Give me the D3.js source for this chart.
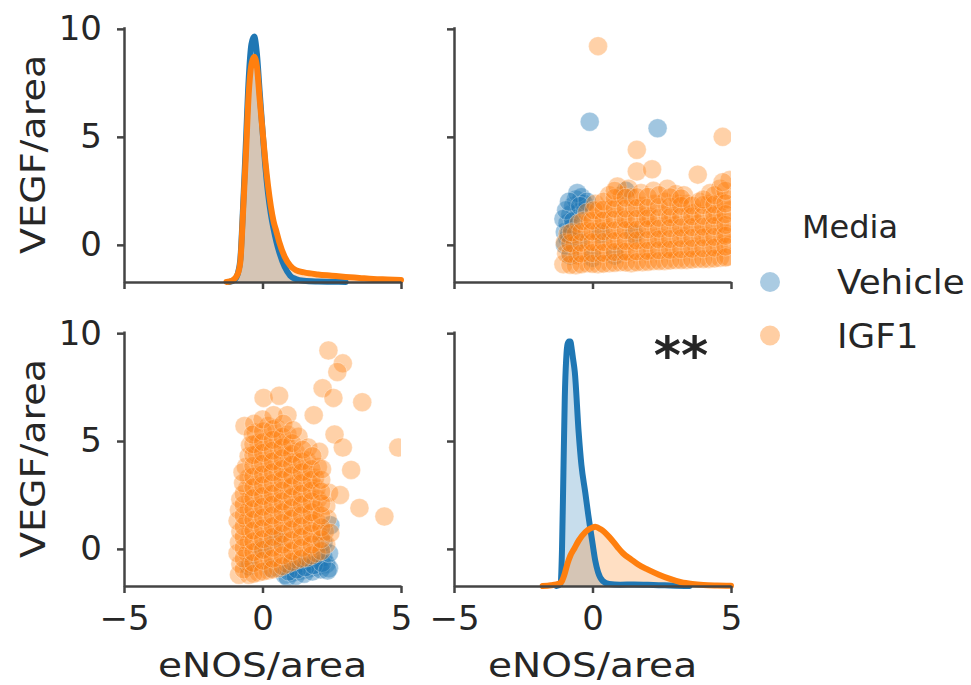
<!DOCTYPE html>
<html>
<head>
<meta charset="utf-8">
<script src="https://cdn.jsdelivr.net/npm/d3@7"></script>
<style>
body { margin: 0; background: #fff; }
text { font-family: "DejaVu Sans", sans-serif; fill: #262626; }
</style>
</head>
<body>
<svg id="chart" width="971" height="685"></svg>
<script>
/* global d3 */

var groups = ['Vehicle', 'IGF1'],
colArray = ['#1f77b4', '#ff7f0e'],
xTicks = [-5, 0, 5],
yTicks = [0, 5, 10],
xLabel = 'eNOS/area',
yLabel = 'VEGF/area',
legendTitle = 'Media',
markText = '**';

// diagonal kde curves, [x, relative density]
var kdeTopVehicle = [[-1.2, 0], [-1.0, 0.01], [-0.9, 0.03], [-0.8, 0.09], [-0.7, 0.3], [-0.6, 0.55], [-0.5, 0.8], [-0.4, 0.94], [-0.3, 0.97], [-0.2, 0.9], [-0.1, 0.75], [0, 0.6], [0.1, 0.46], [0.2, 0.35], [0.3, 0.27], [0.4, 0.21], [0.5, 0.16], [0.6, 0.12], [0.8, 0.06], [1.0, 0.025], [1.2, 0.012], [1.5, 0.005], [2, 0.002], [2.5, 0.001], [3, 0]];
var kdeTopIGF1 = [[-1.3, 0], [-1.1, 0.005], [-0.9, 0.03], [-0.8, 0.08], [-0.7, 0.28], [-0.6, 0.5], [-0.5, 0.74], [-0.4, 0.86], [-0.3, 0.89], [-0.2, 0.85], [-0.1, 0.72], [0, 0.6], [0.1, 0.48], [0.2, 0.38], [0.3, 0.3], [0.4, 0.24], [0.5, 0.2], [0.6, 0.16], [0.8, 0.1], [1.0, 0.065], [1.2, 0.047], [1.5, 0.038], [2, 0.03], [2.5, 0.025], [3, 0.02], [3.5, 0.016], [4, 0.012], [4.5, 0.01], [5, 0.008]];
var kdeBottomVehicle = [[-1.3, 0], [-1.15, 0.01], [-1.1, 0.15], [-1.05, 0.45], [-1.0, 0.75], [-0.95, 0.9], [-0.9, 0.96], [-0.85, 0.97], [-0.8, 0.97], [-0.75, 0.94], [-0.7, 0.9], [-0.64, 0.85], [-0.5, 0.61], [-0.4, 0.48], [-0.26, 0.37], [-0.15, 0.28], [-0.07, 0.22], [0, 0.17], [0.1, 0.1], [0.2, 0.055], [0.37, 0.02], [0.6, 0.008], [1, 0.005], [1.5, 0.006], [2, 0.005], [2.5, 0.003], [3, 0.001], [3.5, 0]];
var kdeBottomIGF1 = [[-1.8, 0], [-1.5, 0.003], [-1.2, 0.01], [-1.1, 0.02], [-1.0, 0.05], [-0.9, 0.09], [-0.8, 0.12], [-0.65, 0.15], [-0.5, 0.18], [-0.25, 0.215], [0, 0.232], [0.1, 0.235], [0.3, 0.225], [0.6, 0.195], [0.9, 0.155], [1.1, 0.13], [1.4, 0.105], [1.65, 0.085], [2.0, 0.065], [2.4, 0.045], [2.8, 0.028], [3.2, 0.015], [3.6, 0.008], [4.0, 0.004], [4.5, 0.002], [5, 0.001]];

// off-diagonal scatter points, [x, y]
var scatterTopVehicle = [[-1.0, 0.6], [-0.9, 1.0], [-0.8, 1.4], [-0.7, 1.8], [-0.6, 2.1], [-0.4, 2.2], [-0.9, 0.3], [-0.5, 1.5], [-0.3, 1.9], [-0.75, 0.8], [-1.05, 1.2], [-0.55, 2.4], [-0.2, 2.0], [-0.95, 1.6], [-0.85, 2.0], [-1.0, 0.0], [-0.85, 0.5], [-0.7, 1.1], [-0.45, 1.8], [1.2, 2.5], [-0.1, 5.7], [2.35, 5.4], [-0.5, 0.2], [0.3, 0.5], [0.8, -0.5], [0.0, -0.6], [1.5, 0.5], [-0.8, -0.5]];
var scatterTopIGF1 = [[-1.05, -0.9], [-0.95, -0.4], [-1.0, 0.1], [-0.9, 0.5],
[-0.6, -0.95], [-0.55, -0.5], [-0.65, 0.0], [-0.6, 0.5], [-0.5, 1.0],
[-0.2, -0.85], [-0.25, -0.35], [-0.15, 0.15], [-0.2, 0.65], [-0.1, 1.1], [-0.2, 1.5],
[0.2, -0.9], [0.25, -0.4], [0.15, 0.1], [0.2, 0.6], [0.3, 1.1], [0.2, 1.6], [0.1, 1.9],
[0.6, -0.85], [0.55, -0.3], [0.65, 0.2], [0.6, 0.7], [0.55, 1.2], [0.7, 1.7], [0.6, 2.3],
[1.0, -0.8], [1.05, -0.3], [0.95, 0.2], [1.0, 0.75], [1.1, 1.25], [0.95, 1.8], [1.05, 2.3], [0.9, 2.7],
[1.4, -0.85], [1.35, -0.35], [1.45, 0.15], [1.4, 0.65], [1.35, 1.15], [1.5, 1.7], [1.4, 2.2], [1.3, 2.6],
[1.8, -0.8], [1.85, -0.3], [1.75, 0.25], [1.8, 0.8], [1.9, 1.3], [1.8, 1.8], [1.75, 2.4],
[2.2, -0.75], [2.15, -0.25], [2.25, 0.3], [2.2, 0.8], [2.1, 1.3], [2.25, 1.9], [2.2, 2.5],
[2.6, -0.75], [2.65, -0.2], [2.55, 0.3], [2.6, 0.85], [2.7, 1.4], [2.6, 2.0], [2.7, 2.6],
[3.0, -0.7], [2.95, -0.2], [3.05, 0.35], [3.0, 0.9], [2.9, 1.4], [3.1, 1.9], [3.0, 2.35],
[3.4, -0.7], [3.45, -0.15], [3.35, 0.4], [3.4, 0.9], [3.5, 1.4], [3.4, 1.9], [3.3, 2.3],
[3.8, -0.65], [3.75, -0.1], [3.85, 0.45], [3.8, 0.95], [3.7, 1.5], [3.85, 2.0],
[4.2, -0.65], [4.25, -0.1], [4.15, 0.4], [4.2, 0.9], [4.3, 1.4], [4.2, 1.9], [4.25, 2.4],
[4.6, -0.6], [4.55, -0.05], [4.65, 0.45], [4.6, 1.0], [4.5, 1.5], [4.65, 2.0], [4.6, 2.6],
[4.9, -0.55], [4.95, 0.0], [4.85, 0.5], [4.9, 1.05], [4.95, 1.6], [4.9, 2.1], [4.95, 3.0],
[-0.8, -0.92], [-0.8, -0.42], [-0.8, 0.08], [-0.75, 0.58],
[-0.4, -0.9], [-0.4, -0.4], [-0.4, 0.1], [-0.4, 0.6], [-0.35, 1.1],
[0.0, -0.88], [0.0, -0.38], [0.0, 0.12], [0.0, 0.62], [0.0, 1.12], [0.05, 1.6],
[0.4, -0.87], [0.4, -0.37], [0.4, 0.13], [0.4, 0.63], [0.4, 1.13], [0.4, 1.63], [0.4, 2.0],
[0.8, -0.83], [0.8, -0.33], [0.8, 0.17], [0.8, 0.67], [0.8, 1.17], [0.8, 1.67], [0.8, 2.17], [0.8, 2.5],
[1.2, -0.82], [1.2, -0.32], [1.2, 0.18], [1.2, 0.68], [1.2, 1.18], [1.2, 1.68], [1.2, 2.18],
[1.6, -0.8], [1.6, -0.3], [1.6, 0.2], [1.6, 0.7], [1.6, 1.2], [1.6, 1.7], [1.6, 2.2],
[2.0, -0.78], [2.0, -0.28], [2.0, 0.22], [2.0, 0.72], [2.0, 1.22], [2.0, 1.72], [2.0, 2.22],
[2.4, -0.75], [2.4, -0.25], [2.4, 0.25], [2.4, 0.75], [2.4, 1.25], [2.4, 1.75], [2.4, 2.3],
[2.8, -0.73], [2.8, -0.23], [2.8, 0.27], [2.8, 0.77], [2.8, 1.27], [2.8, 1.77], [2.8, 2.2],
[3.2, -0.7], [3.2, -0.2], [3.2, 0.3], [3.2, 0.8], [3.2, 1.3], [3.2, 1.8], [3.2, 2.15],
[3.6, -0.68], [3.6, -0.18], [3.6, 0.32], [3.6, 0.82], [3.6, 1.32], [3.6, 1.82],
[4.0, -0.66], [4.0, -0.16], [4.0, 0.34], [4.0, 0.84], [4.0, 1.34], [4.0, 1.84], [4.0, 2.1],
[4.4, -0.63], [4.4, -0.13], [4.4, 0.37], [4.4, 0.87], [4.4, 1.37], [4.4, 1.87], [4.4, 2.3],
[4.8, -0.58], [4.8, -0.08], [4.8, 0.42], [4.8, 0.92], [4.8, 1.42], [4.8, 1.92], [4.8, 2.5],
[0.2, 9.2], [4.7, 5.0], [1.6, 4.4], [1.6, 3.4], [2.15, 3.5], [3.8, 3.25], [4.7, 2.9]];
var scatterBottomVehicle = [[0.8, -1.2], [1.1, -1.1], [1.4, -1.0], [1.7, -0.9], [2.0, -0.8], [2.3, -0.7], [1.0, -0.8], [1.3, -0.7], [1.6, -0.6], [1.9, -0.5], [2.2, -0.4], [0.9, -1.3], [1.2, -1.25], [1.5, -1.15], [1.8, -1.05], [2.1, -0.95], [2.4, -0.9], [0.95, -1.05], [1.25, -0.95], [1.55, -0.85], [1.85, -0.75], [2.15, -0.65], [2.35, -1.0], [2.45, 1.1], [2.2, 0.3], [2.4, -0.2], [0.0, 0.0], [-0.5, -0.8], [0.5, 0.5], [0.3, -0.9]];
var scatterBottomIGF1 = [[-0.85, -1.2], [-0.8, -0.7], [-0.9, -0.2], [-0.85, 0.3], [-0.8, 0.8], [-0.9, 1.3], [-0.85, 1.8], [-0.8, 2.3],
[-0.5, -1.2], [-0.45, -0.7], [-0.55, -0.2], [-0.5, 0.3], [-0.45, 0.8], [-0.55, 1.3], [-0.5, 1.8], [-0.45, 2.3], [-0.55, 2.8], [-0.5, 3.3], [-0.6, 3.8], [-0.5, 4.3], [-0.45, 4.8], [-0.65, 5.7],
[-0.15, -1.1], [-0.1, -0.6], [-0.2, -0.1], [-0.15, 0.4], [-0.1, 0.9], [-0.2, 1.4], [-0.15, 1.9], [-0.1, 2.4], [-0.2, 2.9], [-0.15, 3.4], [-0.1, 3.9], [-0.2, 4.4], [-0.15, 4.9], [-0.25, 5.4], [-0.3, 5.8],
[0.2, -1.0], [0.25, -0.5], [0.15, 0.0], [0.2, 0.5], [0.25, 1.0], [0.15, 1.5], [0.2, 2.0], [0.25, 2.5], [0.15, 3.0], [0.2, 3.5], [0.25, 4.0], [0.15, 4.5], [0.2, 5.0], [0.2, 5.7], [0.04, 7.0],
[0.55, -0.9], [0.5, -0.4], [0.6, 0.1], [0.55, 0.6], [0.5, 1.1], [0.6, 1.6], [0.55, 2.1], [0.5, 2.6], [0.6, 3.1], [0.55, 3.6], [0.5, 4.1], [0.6, 4.6], [0.55, 5.1], [0.5, 5.6], [0.6, 7.1],
[0.9, -0.7], [0.95, -0.2], [0.85, 0.3], [0.9, 0.8], [0.95, 1.3], [0.85, 1.8], [0.9, 2.3], [0.95, 2.8], [0.85, 3.3], [0.9, 3.8], [0.95, 4.3], [0.85, 4.8], [0.9, 5.3], [0.9, 6.2],
[1.25, -0.5], [1.2, 0.0], [1.3, 0.5], [1.25, 1.0], [1.2, 1.5], [1.3, 2.0], [1.25, 2.5], [1.2, 3.0], [1.3, 3.5], [1.25, 4.0], [1.2, 4.5], [1.3, 5.2],
[1.6, -0.4], [1.65, 0.1], [1.55, 0.6], [1.6, 1.1], [1.65, 1.6], [1.55, 2.1], [1.6, 2.6], [1.65, 3.1], [1.55, 3.6], [1.6, 4.1], [1.65, 4.7],
[1.95, -0.2], [1.9, 0.3], [2.0, 0.8], [1.95, 1.3], [1.9, 1.8], [2.0, 2.3], [1.95, 2.8], [1.9, 3.3], [2.0, 3.8], [2.05, 4.5],
[2.3, 0.2], [2.25, 0.8], [2.35, 1.4], [2.3, 2.0], [2.4, 2.6],
[-0.68, -0.95], [-0.68, -0.45], [-0.68, 0.05], [-0.68, 0.55], [-0.68, 1.05], [-0.68, 1.55], [-0.68, 2.05], [-0.68, 2.55], [-0.7, 3.05], [-0.72, 3.55],
[-0.33, -1.15], [-0.33, -0.65], [-0.33, -0.15], [-0.33, 0.35], [-0.33, 0.85], [-0.33, 1.35], [-0.33, 1.85], [-0.33, 2.35], [-0.33, 2.85], [-0.33, 3.35], [-0.33, 3.85], [-0.33, 4.35], [-0.33, 4.85], [-0.35, 5.3],
[0.02, -1.05], [0.02, -0.55], [0.02, -0.05], [0.02, 0.45], [0.02, 0.95], [0.02, 1.45], [0.02, 1.95], [0.02, 2.45], [0.02, 2.95], [0.02, 3.45], [0.02, 3.95], [0.02, 4.45], [0.02, 4.95], [0.02, 5.45], [0.0, 6.0],
[0.37, -0.95], [0.37, -0.45], [0.37, 0.05], [0.37, 0.55], [0.37, 1.05], [0.37, 1.55], [0.37, 2.05], [0.37, 2.55], [0.37, 3.05], [0.37, 3.55], [0.37, 4.05], [0.37, 4.55], [0.37, 5.05], [0.37, 5.55], [0.4, 6.2],
[0.72, -0.8], [0.72, -0.3], [0.72, 0.2], [0.72, 0.7], [0.72, 1.2], [0.72, 1.7], [0.72, 2.2], [0.72, 2.7], [0.72, 3.2], [0.72, 3.7], [0.72, 4.2], [0.72, 4.7], [0.72, 5.2], [0.75, 5.8],
[1.07, -0.6], [1.07, -0.1], [1.07, 0.4], [1.07, 0.9], [1.07, 1.4], [1.07, 1.9], [1.07, 2.4], [1.07, 2.9], [1.07, 3.4], [1.07, 3.9], [1.07, 4.4], [1.07, 4.9], [1.1, 5.5],
[1.42, -0.45], [1.42, 0.05], [1.42, 0.55], [1.42, 1.05], [1.42, 1.55], [1.42, 2.05], [1.42, 2.55], [1.42, 3.05], [1.42, 3.55], [1.42, 4.05], [1.45, 4.6],
[1.77, -0.3], [1.77, 0.2], [1.77, 0.7], [1.77, 1.2], [1.77, 1.7], [1.77, 2.2], [1.77, 2.7], [1.77, 3.2], [1.77, 3.7], [1.8, 4.3],
[2.12, -0.1], [2.12, 0.45], [2.12, 1.0], [2.12, 1.55], [2.12, 2.1], [2.12, 2.65], [2.12, 3.2], [2.15, 3.7],
[2.38, 9.2], [2.9, 8.6], [2.7, 8.2], [2.17, 7.45], [2.56, 7.0], [3.6, 6.8], [1.85, 6.2], [2.6, 5.3], [2.9, 4.7], [4.9, 4.7], [3.2, 3.66], [3.5, 1.9], [4.4, 1.5], [2.45, 0.74], [2.8, 2.5]];

var svg = d3.select('#chart');

// two columns, two rows of axes
var colRanges = [[124, 401], [454, 731]],
rowRanges = [[282, 26.7], [586, 331]];

var panels = [
{ r: 0, c: 0, kind: 'kde', data: [kdeTopVehicle, kdeTopIGF1] },
{ r: 0, c: 1, kind: 'scatter', data: [scatterTopVehicle, scatterTopIGF1] },
{ r: 1, c: 0, kind: 'scatter', data: [scatterBottomVehicle, scatterBottomIGF1] },
{ r: 1, c: 1, kind: 'kde', data: [kdeBottomVehicle, kdeBottomIGF1] }];

panels.forEach(function (p, i) {
  var xScale = d3.scaleLinear().domain([-5, 5]).range(colRanges[p.c]);
  var yScale = d3.scaleLinear().domain([-1.72, 10.1]).range(rowRanges[p.r]);
  var g = svg.append('g');

  if (p.kind === 'scatter') {
    svg.append('clipPath').
    attr('id', 'clip' + i).
    append('rect').
    attr('x', colRanges[p.c][0]).
    attr('y', rowRanges[p.r][1]).
    attr('width', colRanges[p.c][1] - colRanges[p.c][0]).
    attr('height', rowRanges[p.r][0] - rowRanges[p.r][1]);

    var pts = g.append('g').attr('clip-path', 'url(#clip' + i + ')');
    p.data.forEach(function (series, k) {
      pts.selectAll('circle.s' + k).
      data(series).
      enter().
      append('circle').
      attr('class', 's' + k).
      attr('cx', d => xScale(d[0])).
      attr('cy', d => yScale(d[1])).
      attr('r', 9.5).
      attr('fill', colArray[k]).
      attr('fill-opacity', k === 0 ? 0.42 : 0.36).
      attr('stroke', '#fff').
      attr('stroke-opacity', 0.3).
      attr('stroke-width', 1);
    });
  } else {
    var dScale = d3.scaleLinear().domain([0, 1]).range([rowRanges[p.r][0], p.r === 0 ? 29 : 334]);
    var line = d3.line().x(d => xScale(d[0])).y(d => dScale(d[1])).curve(d3.curveMonotoneX);
    var area = d3.area().x(d => xScale(d[0])).y0(dScale(0)).y1(d => dScale(d[1])).curve(d3.curveMonotoneX);
    p.data.forEach(function (series, k) {
      g.append('path').
      attr('d', area(series)).
      attr('fill', colArray[k]).
      attr('fill-opacity', 0.25);
    });
    p.data.forEach(function (series, k) {
      g.append('path').
      attr('d', line(series)).
      attr('fill', 'none').
      attr('stroke', colArray[k]).
      attr('stroke-width', 6).
      attr('stroke-linejoin', 'round').
      attr('stroke-linecap', 'round');
    });
  }

  // axes (left + bottom spines only)
  var xAxis = d3.axisBottom(xScale).
  tickValues(xTicks).
  tickSize(7).
  tickSizeOuter(0).
  tickPadding(13).
  tickFormat(p.r === 1 ? d3.format('d') : '');
  var yAxis = d3.axisLeft(yScale).
  tickValues(yTicks).
  tickSize(7).
  tickSizeOuter(0).
  tickPadding(15).
  tickFormat(p.c === 0 ? d3.format('d') : '');

  var xg = g.append('g').
  attr('transform', 'translate(0,' + rowRanges[p.r][0] + ')').
  call(xAxis);
  var yg = g.append('g').
  attr('transform', 'translate(' + colRanges[p.c][0] + ',0)').
  call(yAxis);

  [xg, yg].forEach(function (ax) {
    ax.select('.domain').attr('stroke', '#444').attr('stroke-width', 2.5);
    ax.selectAll('.tick line').attr('stroke', '#444').attr('stroke-width', 2.5);
    ax.selectAll('.tick text').
    attr('fill', '#262626').
    style('font-family', '"DejaVu Sans", sans-serif').
    style('font-size', '34px');
  });

  if (p.r === 1) {
    svg.append('text').
    attr('transform', 'translate(' + (colRanges[p.c][0] + colRanges[p.c][1]) / 2 + ',677) scale(1.15,1)').
    attr('text-anchor', 'middle').
    style('font-size', '34px').
    text(xLabel);
  }
  if (p.c === 0) {
    var cy = (rowRanges[p.r][0] + rowRanges[p.r][1]) / 2;
    svg.append('text').
    attr('transform', 'translate(45,' + cy + ') rotate(-90) scale(1.12,1)').
    attr('text-anchor', 'middle').
    style('font-size', '34px').
    text(yLabel);
  }
});

// legend
var legend = svg.append('g');
legend.append('text').
attr('x', 802).
attr('y', 238).
style('font-size', '32px').
text(legendTitle);

var items = legend.selectAll('g.item').
data(groups).
enter().
append('g').
attr('class', 'item').
attr('transform', (d, i) => 'translate(0,' + (282 + i * 53.5) + ')');
items.append('circle').
attr('cx', 770).
attr('cy', 0).
attr('r', 10).
attr('fill', (d, i) => colArray[i]).
attr('fill-opacity', 0.38);
items.append('text').
attr('transform', 'translate(837,12) scale(1.05,1)').
style('font-size', '34px').
text(d => d);

// significance mark
svg.append('text').
attr('x', 681).
attr('y', 373).
attr('text-anchor', 'middle').
style('font-size', '52px').
style('font-weight', 'bold').
attr('fill', '#111').
text(markText);
</script>
</body>
</html>
